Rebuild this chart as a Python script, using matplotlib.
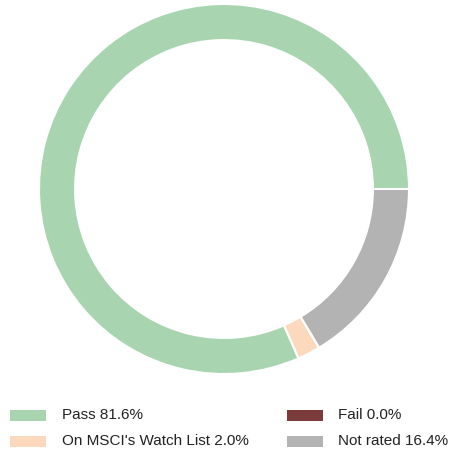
import matplotlib
matplotlib.use("Agg")
import matplotlib.pyplot as plt
from matplotlib.patches import Rectangle

labels = ["Pass", "On MSCI's Watch List", "Fail", "Not rated"]
values = [81.6, 2.0, 0.0, 16.4]
colors = ["#a8d5b0", "#fcd9bd", "#7b3b3b", "#b3b3b3"]

plt.rcParams['font.family'] = ['Liberation Sans', 'DejaVu Sans']

W, H = 449, 455
fig = plt.figure(figsize=(W / 100, H / 100), dpi=100)

cx, cy, r = 224, 189, 185
ax = fig.add_axes([(cx - r) / W, (H - cy - r) / H, 2 * r / W, 2 * r / H])
ax.pie(values, colors=colors, startangle=0, counterclock=True, radius=1,
       wedgeprops=dict(width=0.195, edgecolor="white", linewidth=1.5))
ax.set_xlim(-1, 1)
ax.set_ylim(-1, 1)
ax.set_aspect("equal")
ax.axis("off")

# legend (2 columns, column-major order)
col_patch_x = [10, 287]
col_text_x = [62, 338]
row_y = [415, 441]
order = [(0, 0), (1, 0), (0, 1), (1, 1)]  # (row, col) for each label
for (row, col), lab, val, c in zip(order, labels, values, colors):
    y = row_y[row]
    fig.patches.append(Rectangle((col_patch_x[col] / W, (H - y - 5.5) / H), 36 / W, 11 / H,
                                 transform=fig.transFigure, facecolor=c, edgecolor="none"))
    fig.text(col_text_x[col] / W, (H - y) / H, f"{lab} {val:.1f}%", fontsize=11,
             va="center", ha="left", color="#222222")

fig.savefig("out.png", dpi=100)
